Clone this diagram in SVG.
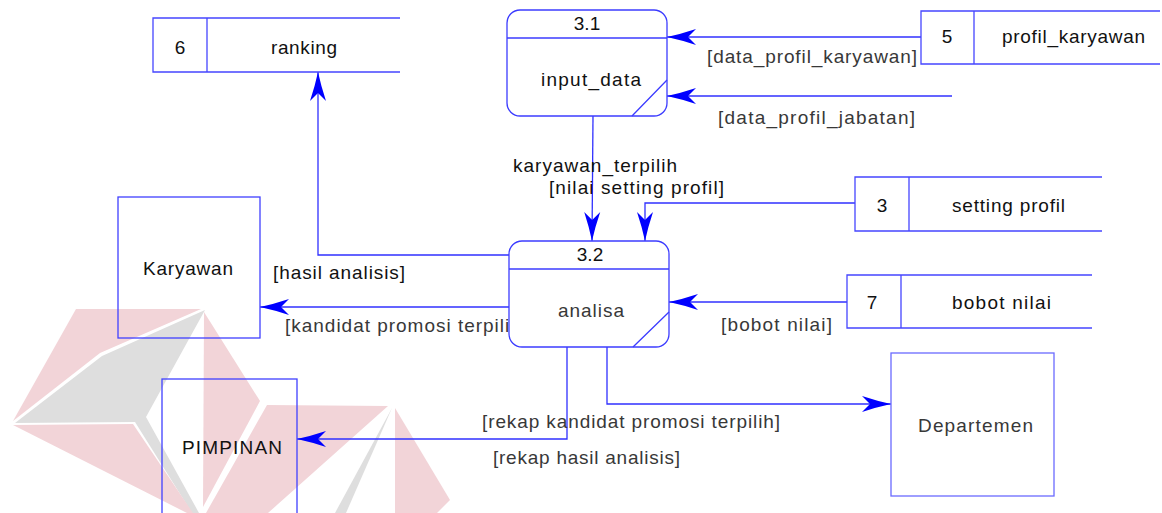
<svg xmlns="http://www.w3.org/2000/svg" width="1162" height="513" viewBox="0 0 1162 513">
<style>
text{font-family:"Liberation Sans",Arial,sans-serif;font-size:19px}
.n{fill:#111}
.l{fill:#383838}
.box{fill:none;stroke:#4040ff;stroke-width:1.3}
.proc{fill:#fff;stroke:#3c3cff;stroke-width:1.3}
.st{fill:none;stroke:#4545ff;stroke-width:1.3}
.c{fill:none;stroke:#3030ff;stroke-width:1.3}
.wp{fill:#f2d4d8}
.wg{fill:#dedede}
</style>
<defs>
<marker id="ah" markerUnits="userSpaceOnUse" markerWidth="30" markerHeight="18" viewBox="-30 -9 30 18" refX="0" refY="0" orient="auto">
<path d="M0,0 Q-14,-3 -29,-8 L-21,0 L-29,8 Q-14,3 0,0Z" fill="#0000ff"/>
</marker>
</defs>
<g id="watermark">
<polygon class="wp" points="76,309 201,309 100,353 13,421"/>
<polygon class="wg" points="205,310 102,356 15,423 135,422 192,513 199,513 146,417"/>
<polygon class="wp" points="13,425 133,424 193,513 187,513"/>
<polygon class="wp" points="204,312 260,401 203,507"/>
<polygon class="wp" points="267,405 388,406 268,513 206,513"/>
<polygon class="wg" points="392,408 335,513 346,513"/>
<polygon class="wp" points="395,408 450,500 437,513 395,513"/>
</g>
<g id="connectors">
<path class="c" d="M921,37 L667,37" marker-end="url(#ah)"/>
<path class="c" d="M952,96 L667,96" marker-end="url(#ah)"/>
<path class="c" d="M593,116 L592,241" marker-end="url(#ah)"/>
<path class="c" d="M855,203 L645,203 L645,241" marker-end="url(#ah)"/>
<path class="c" d="M847,302 L669,302" marker-end="url(#ah)"/>
<path class="c" d="M509,255 L318,255 L318,72" marker-end="url(#ah)"/>
<path class="c" d="M509,307 L260,307" marker-end="url(#ah)"/>
<path class="c" d="M567,347 L567,439 L297,439" marker-end="url(#ah)"/>
<path class="c" d="M607,347 L607,404 L891,404" marker-end="url(#ah)"/>
</g>
<g id="labels">
<text class="l" x="707" y="63" textLength="210" lengthAdjust="spacing">[data_profil_karyawan]</text>
<text class="l" x="718" y="124" textLength="197" lengthAdjust="spacing">[data_profil_jabatan]</text>
<text class="n" x="513" y="172" textLength="164" lengthAdjust="spacing">karyawan_terpilih</text>
<text class="n" x="549" y="194" textLength="175" lengthAdjust="spacing">[nilai setting profil]</text>
<text class="l" x="721" y="331" textLength="111" lengthAdjust="spacing">[bobot nilai]</text>
<text class="n" x="273" y="279" textLength="132" lengthAdjust="spacing">[hasil analisis]</text>
<text class="l" x="285" y="332" textLength="242" lengthAdjust="spacing">[kandidat promosi terpilih]</text>
<text class="l" x="482" y="428" textLength="298" lengthAdjust="spacing">[rekap kandidat promosi terpilih]</text>
<text class="l" x="493" y="464" textLength="187" lengthAdjust="spacing">[rekap hasil analisis]</text>
</g>
<g id="store-6">
<path class="st" d="M400,18 L153,18 L153,72 L400,72 M207,18 L207,72"/>
<text class="n" x="180" y="54" text-anchor="middle">6</text>
<text class="n" x="271" y="54" textLength="66" lengthAdjust="spacing">ranking</text>
</g>
<g id="store-5">
<path class="st" d="M1160,11 L921,11 L921,64 L1160,64 M974,11 L974,64"/>
<text class="n" x="947" y="43" text-anchor="middle">5</text>
<text class="n" x="1002" y="43" textLength="143" lengthAdjust="spacing">profil_karyawan</text>
</g>
<g id="store-3">
<path class="st" d="M1102,177 L855,177 L855,231 L1102,231 M909,177 L909,231"/>
<text class="n" x="882" y="212" text-anchor="middle">3</text>
<text class="n" x="952" y="212" textLength="113" lengthAdjust="spacing">setting profil</text>
</g>
<g id="store-7">
<path class="st" d="M1092,275 L847,275 L847,328 L1092,328 M901,275 L901,328"/>
<text class="n" x="872" y="309" text-anchor="middle">7</text>
<text class="n" x="952" y="309" textLength="99" lengthAdjust="spacing">bobot nilai</text>
</g>
<g id="process-3-1">
<rect class="proc" x="507" y="10" width="160" height="106" rx="13"/>
<path class="proc" d="M507,38 L667,38 M667,80 L632,116"/>
<text class="n" x="587" y="30" text-anchor="middle">3.1</text>
<text class="n" x="541" y="86" textLength="100" lengthAdjust="spacing">input_data</text>
</g>
<g id="process-3-2">
<rect class="proc" x="509" y="241" width="160" height="106" rx="13"/>
<path class="proc" d="M509,269 L669,269 M669,312 L633,347"/>
<text class="n" x="590" y="261" text-anchor="middle">3.2</text>
<text class="l" x="558" y="317" textLength="66" lengthAdjust="spacing">analisa</text>
</g>
<g id="karyawan">
<rect class="box" x="118" y="197" width="142" height="141"/>
<text class="n" x="143" y="275" textLength="90" lengthAdjust="spacing">Karyawan</text>
</g>
<g id="pimpinan">
<rect class="box" x="162" y="379" width="135" height="140"/>
<text class="n" x="182" y="454" textLength="100" lengthAdjust="spacing">PIMPINAN</text>
</g>
<g id="departemen">
<rect class="box" x="891" y="353" width="163" height="143" style="stroke:#6a6aff"/>
<text class="l" x="918" y="432" textLength="115" lengthAdjust="spacing">Departemen</text>
</g>
</svg>
